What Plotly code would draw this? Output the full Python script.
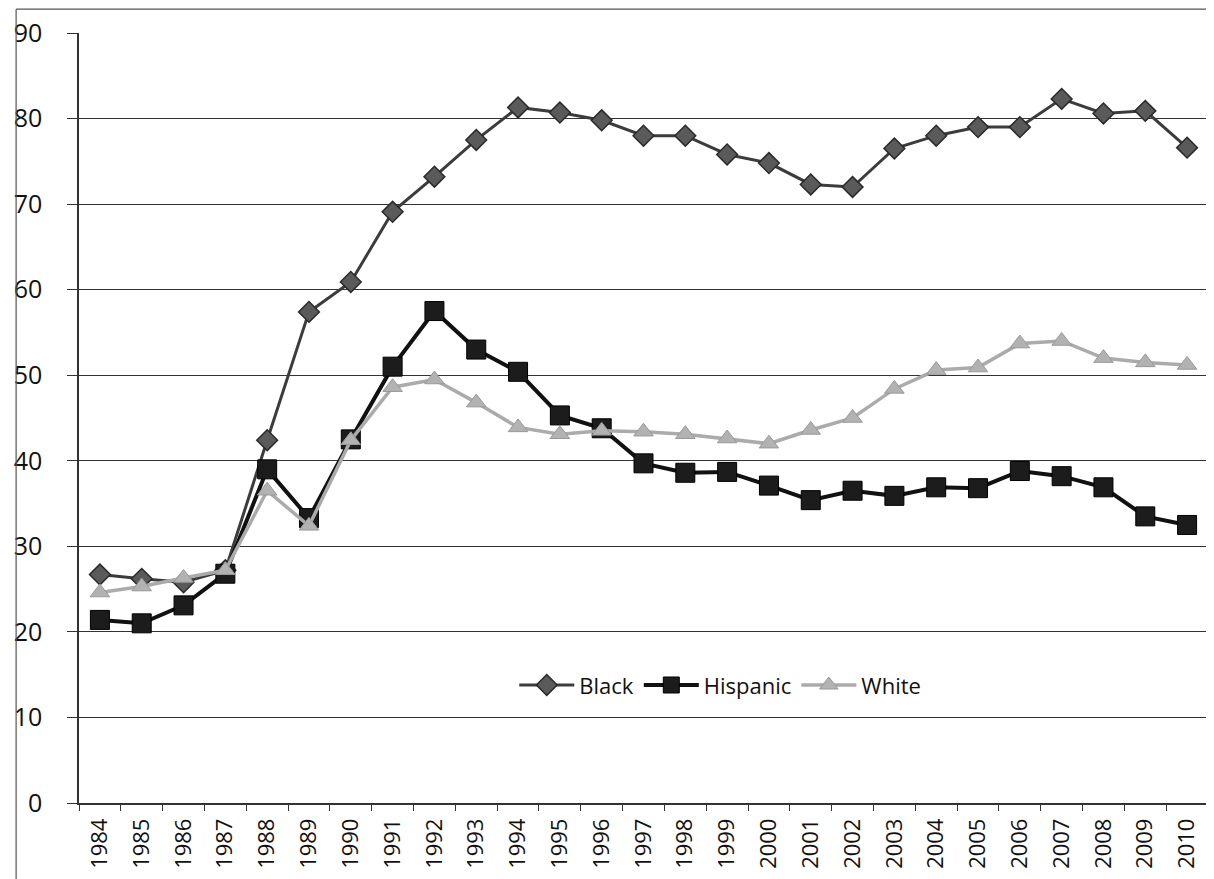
import plotly.graph_objects as go

years = [str(y) for y in range(1984, 2011)]

black = [26.7, 26.2, 25.8, 27.2, 42.4, 57.4, 60.9, 69.1, 73.2, 77.5, 81.3, 80.7, 79.8,
         78.0, 78.0, 75.8, 74.8, 72.3, 72.0, 76.5, 78.0, 79.0, 79.0, 82.3, 80.6, 80.9, 76.6]
hispanic = [21.4, 21.0, 23.1, 26.8, 39.0, 33.3, 42.5, 51.0, 57.5, 53.0, 50.4, 45.3, 43.8,
            39.7, 38.6, 38.7, 37.1, 35.4, 36.5, 35.9, 36.9, 36.8, 38.8, 38.2, 36.9, 33.5, 32.5]
white = [24.6, 25.3, 26.3, 27.2, 36.5, 32.4, 42.4, 48.6, 49.5, 46.8, 43.9, 43.1, 43.5,
         43.4, 43.1, 42.6, 42.0, 43.6, 45.0, 48.4, 50.6, 50.9, 53.7, 54.0, 52.0, 51.5, 51.2]

y_ticks = [0, 10, 20, 30, 40, 50, 60, 70, 80, 90]

FONT = "Open Sans"

fig = go.Figure()
fig.add_trace(go.Scatter(
    x=years, y=black, name="Black", mode="lines+markers",
    line=dict(color="#3c3c3c", width=3),
    marker=dict(symbol="diamond", size=16, color="#5a5a5a",
                line=dict(color="#2a2a2a", width=1.5))))
fig.add_trace(go.Scatter(
    x=years, y=hispanic, name="Hispanic", mode="lines+markers",
    line=dict(color="#111111", width=4),
    marker=dict(symbol="square", size=19, color="#1c1c1c",
                line=dict(color="#000000", width=1))))
fig.add_trace(go.Scatter(
    x=years, y=white, name="White", mode="lines+markers",
    line=dict(color="#ababab", width=3.5),
    marker=dict(symbol="triangle-up", size=17, color="#b2b2b2",
                line=dict(color="#999999", width=1))))

fig.update_layout(
    width=1206, height=871,
    margin=dict(l=69, r=6, t=25, b=76),
    paper_bgcolor="white", plot_bgcolor="white",
    font=dict(family=FONT, color="#111111"),
    showlegend=True,
    legend=dict(orientation="h", x=0.568, y=0.153, xanchor="center", yanchor="middle",
                font=dict(size=22, family=FONT, color="#111111"),
                bgcolor="rgba(0,0,0,0)", itemwidth=55, tracegroupgap=0),
    xaxis=dict(type="category", range=[-0.5, 26.5], tickangle=-90,
               showgrid=False, showline=True, linecolor="#333333", linewidth=1.5,
               ticks="outside", tickson="boundaries", ticklen=6, tickcolor="#333333",
               tickfont=dict(size=22, family=FONT, color="#111111"),
               ticklabelstandoff=5),
    yaxis=dict(range=[0, 90], tickvals=y_ticks, showgrid=True, gridcolor="#333333",
               gridwidth=1.4, showline=True, linecolor="#333333", linewidth=1.5,
               ticks="outside", ticklen=10, tickcolor="#333333",
               tickfont=dict(size=25, family=FONT, color="#111111"),
               ticklabelstandoff=20, zeroline=False),
)

# outer chart border (left and top edges visible in reference)
fig.add_shape(type="line", xref="paper", yref="paper", x0=-0.0557, x1=-0.0557,
              y0=-0.1, y1=1.031, line=dict(color="#555555", width=1.2))
fig.add_shape(type="line", xref="paper", yref="paper", x0=-0.0557, x1=1.006,
              y0=1.031, y1=1.031, line=dict(color="#555555", width=1.2))

fig.write_html("out.html")
